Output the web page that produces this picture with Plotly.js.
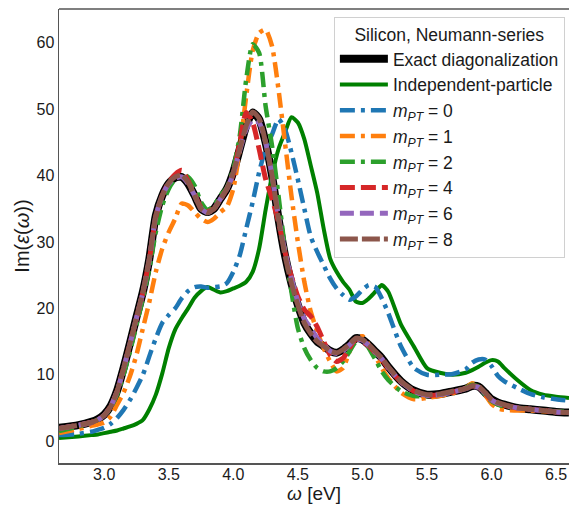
<!DOCTYPE html>
<html>
<head>
<meta charset="utf-8">
<script src="https://cdn.plot.ly/plotly-3.0.1.min.js"></script>
<style>
  html, body { margin: 0; padding: 0; background: #fff; }
  #chart { width: 569px; height: 505px; }
</style>
</head>
<body>
<div id="chart"></div>
<script>
// Photon energy grid (eV)
const omega = [2.65, 2.8, 2.9, 2.95, 3.0, 3.05, 3.1, 3.15, 3.2, 3.25, 3.3, 3.35, 3.4, 3.45, 3.5, 3.55, 3.6, 3.65, 3.7, 3.75,
  3.8, 3.85, 3.9, 3.95, 4.0, 4.05, 4.1, 4.15, 4.2, 4.25, 4.3, 4.35, 4.4, 4.45, 4.5, 4.55, 4.6, 4.65, 4.7, 4.75,
  4.8, 4.85, 4.9, 4.95, 5.0, 5.05, 5.1, 5.15, 5.2, 5.3, 5.4, 5.5, 5.6, 5.7, 5.8, 5.85, 5.9, 5.95, 6.0, 6.05,
  6.1, 6.2, 6.3, 6.4, 6.5, 6.6];

// Im(eps(omega)) spectra
const exactDiag = [2.0, 2.4, 2.9, 3.3, 4.0, 5.3, 7.6, 11.0, 14.8, 18.7, 22.5, 27.5, 34.0, 37.0, 38.8, 39.7, 39.8, 38.8, 37.0, 35.0,
  34.5, 35.0, 36.5, 38.0, 40.5, 44.0, 47.5, 49.5, 48.5, 45.0, 40.0, 33.5, 28.0, 23.8, 20.5, 17.8, 16.2, 15.0, 14.3, 13.6,
  13.3, 13.8, 14.6, 15.5, 15.3, 14.5, 13.5, 12.5, 11.2, 9.0, 7.6, 7.0, 7.1, 7.5, 7.9, 8.3, 8.2, 7.3, 6.3, 5.8,
  5.5, 5.0, 4.8, 4.6, 4.4, 4.3];

const indepParticle = [0.45, 0.7, 0.9, 1.0, 1.2, 1.4, 1.6, 1.9, 2.2, 2.6, 3.2, 4.8, 7.0, 10.2, 14.0, 16.8, 18.5, 20.0, 21.6, 22.6,
  23.2, 22.8, 22.4, 22.6, 23.0, 23.4, 24.0, 25.5, 29.0, 34.8, 40.0, 44.0, 46.5, 48.8, 48.0, 45.5, 41.5, 37.4, 32.0, 27.5,
  25.5, 24.0, 22.8, 21.0, 20.8, 21.5, 22.5, 23.5, 22.5, 17.5, 14.2, 11.0, 10.3, 10.0, 10.3, 10.7, 11.2, 11.8, 12.2, 12.0,
  11.0, 9.2, 7.7, 7.0, 6.7, 6.5];

const mPT0 = [0.9, 1.1, 1.4, 1.7, 2.0, 2.6, 3.5, 4.7, 6.2, 8.0, 10.0, 12.8, 15.5, 17.8, 19.0, 20.0, 21.5, 22.6, 23.2, 23.3,
  23.1, 23.2, 23.3, 23.8, 25.5, 28.0, 32.0, 36.0, 40.5, 44.0, 46.2, 48.5, 47.0, 43.5, 39.4, 35.0, 30.8, 28.5, 26.5, 24.5,
  23.0, 22.0, 21.3, 21.8, 22.8, 23.5, 23.2, 21.5, 19.3, 14.2, 11.0, 10.0, 10.0, 10.1, 10.8, 11.8, 12.3, 12.3, 11.3, 9.8,
  9.0, 8.0, 7.1, 6.6, 6.3, 6.1];

const mPT1 = [1.2, 1.8, 2.3, 2.5, 2.8, 3.7, 5.5, 7.3, 9.8, 13.0, 17.0, 21.0, 25.5, 29.0, 31.5, 33.5, 35.8, 35.5, 34.5, 33.5,
  33.0, 33.5, 34.5, 35.3, 38.0, 44.0, 52.0, 58.8, 61.5, 62.0, 59.5, 53.0, 45.0, 37.0, 30.0, 24.0, 19.5, 16.5, 14.0, 12.0,
  10.5, 11.0, 13.5, 15.5, 15.8, 14.5, 12.8, 11.0, 9.5, 7.3, 6.3, 6.5, 6.8, 7.2, 8.0, 8.7, 8.3, 7.0, 5.6, 4.9,
  4.7, 4.6, 4.6, 4.5, 4.4, 4.3];

const mPT2 = [1.5, 2.2, 2.8, 3.2, 3.8, 5.0, 7.0, 10.0, 13.5, 17.5, 21.5, 26.0, 31.5, 35.5, 38.0, 39.5, 40.2, 39.8, 38.5, 36.0,
  34.8, 35.5, 37.0, 38.2, 41.0, 46.0, 54.5, 59.8, 58.5, 50.5, 44.5, 37.0, 29.0, 22.5, 17.0, 14.0, 12.2, 11.0, 10.5, 10.5,
  11.0, 12.0, 13.5, 15.0, 15.3, 14.0, 12.3, 10.5, 9.2, 7.5, 6.8, 6.8, 7.0, 7.4, 8.0, 8.5, 8.2, 7.0, 6.0, 5.5,
  5.2, 5.0, 4.8, 4.6, 4.5, 4.4];

const mPT4 = [1.9, 2.4, 2.8, 3.2, 3.9, 5.2, 7.5, 10.9, 14.7, 18.5, 22.4, 27.4, 33.8, 37.0, 39.0, 40.2, 40.8, 39.2, 37.2, 35.2,
  34.6, 35.0, 36.4, 38.0, 40.2, 45.0, 49.5, 48.0, 44.0, 39.5, 36.5, 33.0, 28.5, 24.8, 21.8, 19.8, 18.8, 17.2, 15.0, 13.0,
  12.0, 12.5, 14.0, 15.4, 15.0, 14.3, 13.3, 12.3, 11.0, 8.9, 7.5, 6.9, 7.0, 7.4, 7.9, 8.3, 8.1, 7.2, 6.2, 5.7,
  5.4, 5.0, 4.8, 4.6, 4.4, 4.3];

const mPT6 = [1.9, 2.4, 2.8, 3.2, 3.9, 5.2, 7.5, 10.9, 14.7, 18.6, 22.4, 27.4, 33.9, 37.0, 38.8, 39.6, 39.8, 38.8, 37.0, 35.0,
  34.4, 35.0, 36.5, 38.0, 40.3, 43.8, 47.0, 48.4, 48.0, 45.0, 40.0, 33.8, 28.5, 24.5, 21.0, 18.4, 17.0, 15.5, 14.5, 13.6,
  13.2, 13.6, 14.5, 15.4, 15.2, 14.4, 13.4, 12.4, 11.1, 8.9, 7.5, 6.9, 7.0, 7.4, 7.9, 8.2, 8.1, 7.2, 6.2, 5.7,
  5.4, 5.0, 4.8, 4.6, 4.4, 4.3];

const mPT8 = [1.9, 2.4, 2.8, 3.2, 3.9, 5.2, 7.5, 10.9, 14.7, 18.6, 22.5, 27.5, 34.0, 37.0, 38.9, 39.8, 40.1, 39.0, 37.0, 35.0,
  34.4, 35.0, 36.5, 38.0, 40.5, 44.0, 47.5, 49.6, 48.6, 45.0, 40.0, 33.5, 28.0, 23.8, 20.5, 17.8, 16.2, 15.0, 14.3, 13.6,
  13.3, 13.8, 14.6, 15.5, 15.3, 14.5, 13.5, 12.5, 11.2, 9.0, 7.6, 7.0, 7.1, 7.5, 7.9, 8.3, 8.2, 7.3, 6.3, 5.8,
  5.5, 5.0, 4.8, 4.6, 4.4, 4.3];

const seriesNames = ['Exact diagonalization', 'Independent-particle',
  '<i>m</i><sub><i>PT</i></sub> = 0', '<i>m</i><sub><i>PT</i></sub> = 1', '<i>m</i><sub><i>PT</i></sub> = 2',
  '<i>m</i><sub><i>PT</i></sub> = 4', '<i>m</i><sub><i>PT</i></sub> = 6', '<i>m</i><sub><i>PT</i></sub> = 8'];
const seriesValues = [exactDiag, indepParticle, mPT0, mPT1, mPT2, mPT4, mPT6, mPT8];

const styles = [
  { color: '#000000', width: 8, dash: 'solid' },
  { color: '#008000', width: 4, dash: 'solid' },
  { color: '#1f77b4', width: 4.5, dash: '15px,6px,4px,6px' },
  { color: '#ff7f0e', width: 4.5, dash: '15px,6px,4px,6px' },
  { color: '#2ca02c', width: 4.5, dash: '15px,6px,4px,6px' },
  { color: '#d62728', width: 5, dash: '15px,6px' },
  { color: '#9467bd', width: 5, dash: '14px,6px' },
  { color: '#8c564b', width: 5, dash: '18px,4px' }
];

const traces = seriesValues.map((vals, i) => ({
  type: 'scatter',
  mode: 'lines',
  x: omega,
  y: vals,
  name: seriesNames[i],
  line: { color: styles[i].color, width: styles[i].width, dash: styles[i].dash, shape: 'spline', smoothing: 0.6 },
  hoverinfo: 'skip'
}));

const font = 'Liberation Sans, Arial, Helvetica, sans-serif';
const ink = '#1a1a1a';

const layout = {
  width: 569,
  height: 505,
  margin: { l: 59, r: 0, t: 9, b: 42 },
  paper_bgcolor: '#ffffff',
  plot_bgcolor: '#ffffff',
  font: { family: font, size: 16, color: ink },
  showlegend: true,
  xaxis: {
    range: [2.65, 6.6],
    tickvals: [3.0, 3.5, 4.0, 4.5, 5.0, 5.5, 6.0, 6.5],
    ticktext: ['3.0', '3.5', '4.0', '4.5', '5.0', '5.5', '6.0', '6.5'],
    ticks: '',
    ticklabelstandoff: -4,
    showgrid: false, zeroline: false,
    showline: true, linecolor: '#555555', linewidth: 1.5,
    tickfont: { size: 16, family: font, color: ink },
    title: { text: '<i>ω</i> [eV]', font: { size: 19, family: font, color: ink }, standoff: 0 }
  },
  yaxis: {
    range: [-3.3, 65.1],
    tickvals: [0, 10, 20, 30, 40, 50, 60],
    ticks: '',
    showgrid: false, zeroline: false,
    showline: true, linecolor: '#555555', linewidth: 1.5,
    tickfont: { size: 16, family: font, color: ink },
    title: { text: 'Im(<i>ε</i>(<i>ω</i>))', font: { size: 20, family: font, color: ink }, standoff: 1 }
  },
  shapes: [
    { type: 'line', xref: 'paper', yref: 'paper', x0: 0, x1: 1, y0: 1, y1: 1,
      line: { color: '#555555', width: 1.5 } }
  ],
  legend: {
    x: 0.539, y: 0.982, xanchor: 'left', yanchor: 'top',
    bgcolor: '#ffffff', bordercolor: '#d0d0d0', borderwidth: 1,
    font: { size: 17.5, family: font, color: ink },
    title: { text: 'Silicon, Neumann-series', side: 'top center', font: { size: 17.5, family: font, color: ink } },
    itemwidth: 48,
    tracegroupgap: 0
  }
};

Plotly.newPlot('chart', traces, layout, { staticPlot: true, displayModeBar: false });
</script>
</body>
</html>
